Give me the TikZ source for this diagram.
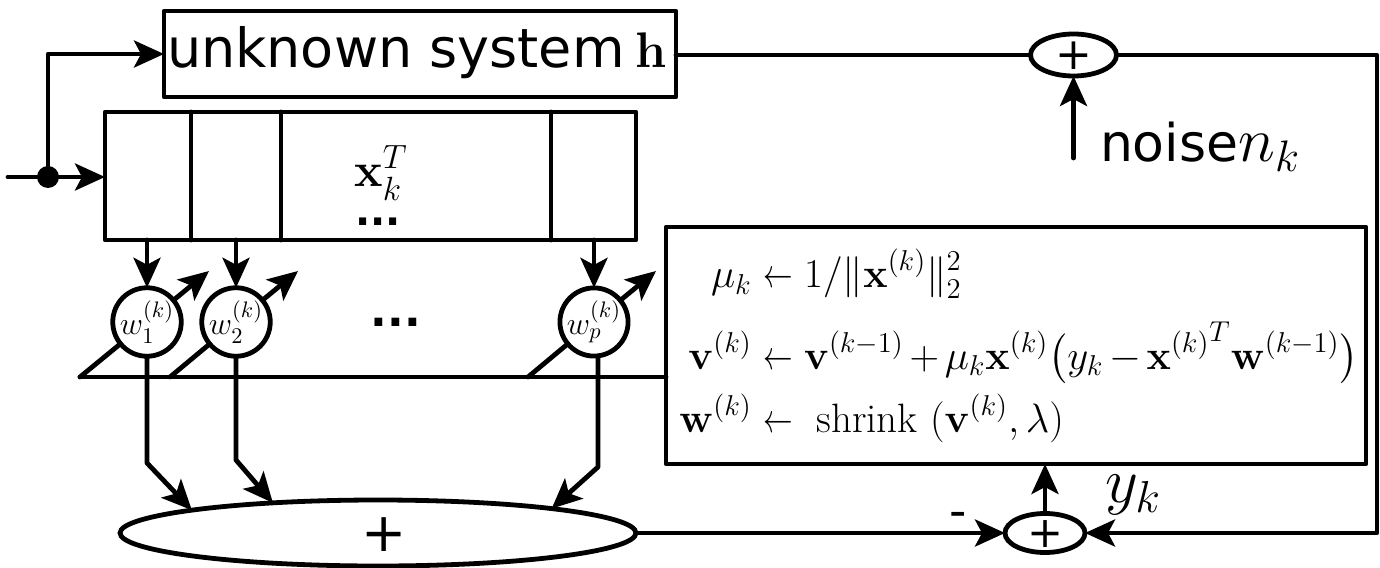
\documentclass[tikz,border=0pt]{standalone}
\usepackage{fix-cm}
\usepackage{amsmath}
\usepackage{graphicx}
\usepackage[no-math]{fontspec}
\newfontfamily\dejavu{DejaVu Sans}
\newfontfamily\dejavub{DejaVu Sans Bold}
\usetikzlibrary{arrows.meta,shapes.geometric}
\newcommand{\fs}[1]{\fontsize{#1}{#1}\selectfont}
\newcommand{\larr}{\mathrel{\scalebox{.72}[1]{$\leftarrow$}}}
\tikzset{
  line/.style={line width=2.4pt,line cap=round,line join=round},
  arr/.style={line,-{Stealth[length=15pt,width=13.5pt,inset=3.5pt]}},
  boxn/.style={draw,line width=2.4pt,inner sep=0pt,outer sep=0pt,rectangle,line join=round},
  ell/.style={draw,line width=2.4pt,ellipse,fill=white,inner sep=0pt,outer sep=0pt},
  wt/.style={draw,line width=2.4pt,circle,fill=white,inner sep=0pt,outer sep=0pt,minimum size=34pt,font=\fs{16}},
  lab/.style={inner sep=0pt,outer sep=0pt},
}
\begin{document}
\begin{tikzpicture}[x=0.5pt,y=-0.5pt]
\useasboundingbox (0,0) rectangle (1380,567);
% blocks
\node[boxn,minimum width=256pt,minimum height=43pt] (sys) at (420,54) {};
\node[lab,anchor=base west,font=\fs{27}] (syst) at (167,68) {\dejavu unknown system\hspace{5.5pt}{\fs{25}$\mathbf{h}$}};
\node[boxn,minimum width=265.5pt,minimum height=64pt] (reg) at (370.5,176) {};
\node[boxn,minimum width=350pt,minimum height=118.5pt] (box) at (1016,345.5) {};
\node[lab,font=\fs{20.5}] (upd) at (1019,347) {\medmuskip=2.5mu$\begin{aligned}
\mu_k &\larr 1/\|\mathbf{x}^{(k)}\|_2^2\\[7pt]
\mathbf{v}^{(k)} &\larr \mathbf{v}^{(k-1)}+\mu_k\mathbf{x}^{(k)}\bigl(y_k-{\mathbf{x}^{(k)}}^{T}\mathbf{w}^{(k-1)}\bigr)\\[1pt]
\mathbf{w}^{(k)} &\larr \text{ shrink }(\mathbf{v}^{(k)},\lambda)
\end{aligned}$};
% register dividers
\coordinate (r1) at (191,176);
\coordinate (r2) at (281,176);
\coordinate (r3) at (551,176);
\draw[line] (r1 |- reg.north) -- (r1 |- reg.south);
\draw[line] (r2 |- reg.north) -- (r2 |- reg.south);
\draw[line] (r3 |- reg.north) -- (r3 |- reg.south);
\node[lab,font=\fs{24}] (xk) at (381,173) {$\mathbf{x}_k^T$};
\node[lab,font=\fs{20},anchor=base] (d1) at (378,225) {\dejavub ...};
\node[lab,font=\fs{22},anchor=base] (d2) at (396,326) {\dejavub ...};
% adders
\node[ell,minimum width=43pt,minimum height=21pt] (p1) at (1073.5,55) {};
\node[lab,font=\fs{22}] (p1t) at (1073.5,56) {\dejavu +};
\node[ell,minimum width=258pt,minimum height=33pt] (big) at (378,533) {};
\node[lab,font=\fs{27}] (bigt) at (384,535) {\dejavu +};
\node[ell,minimum width=40pt,minimum height=19.5pt] (p2) at (1045,533) {};
\node[lab,font=\fs{21.5}] (p2t) at (1045,534) {\dejavu +};
% input
\coordinate (in) at (8,177);
\node[circle,fill=black,minimum size=11pt,inner sep=0pt] (j) at (48,177) {};
\draw[line] (in) -- (j);
\draw[arr] (j) -- (reg.west |- j);
\draw[arr] (j) |- (sys.west);
% top path
\coordinate (rt) at (1377,55);
\draw[line] (sys.east |- p1) -- (p1.west);
\draw[arr] (p1.east) -- (rt) -- (rt |- p2) -- (p2.east);
\coordinate (nb) at (1073.5,158);
\draw[arr] (nb) -- (p1.south);
\node[lab,anchor=base west,font=\fs{26}] (noise) at (1100,162) {\dejavu noise{\fs{31.5}$n_k$}};
% weights
\coordinate (b1) at (80,377);
\coordinate (b2) at (170,377);
\coordinate (b3) at (528,377);
\coordinate (t1) at (209,271);
\coordinate (t2) at (298,271);
\coordinate (t3) at (656,271);
\draw[line] (b1) -- (b1 -| box.west);
\node[wt] (w1) at (147,322) {$w_1^{(k)}$};
\node[wt] (w2) at (236,322) {$w_2^{(k)}$};
\node[wt] (wp) at (594,322) {$w_p^{(k)}$};
\draw[line] (b1) -- (w1);
\draw[line] (b2) -- (w2);
\draw[line] (b3) -- (wp);
\draw[arr] (w1) -- (t1);
\draw[arr] (w2) -- (t2);
\draw[arr] (wp) -- (t3);
\draw[arr] (reg.south -| w1) -- (w1.north);
\draw[arr] (reg.south -| w2) -- (w2.north);
\draw[arr] (reg.south -| wp) -- (wp.north);
% outputs
\coordinate (k1) at (147,463);
\coordinate (k2) at (236,460);
\coordinate (k3) at (598,467);
\draw[arr] (w1.south) -- (k1) -- (big.173.5);
\draw[arr] (w2.south) -- (k2) -- (big.164.3);
\draw[arr] (wp.south -| k3) -- (k3) -- (big.8.2);
\draw[arr] (big.east) -- (p2.west);
\draw[arr] (p2.north) -- (box.south -| p2);
\node[lab,font=\fs{24}] (minus) at (958,520) {\dejavu -};
\node[lab,font=\fs{32}] (yk) at (1133,495) {$y_k$};
\end{tikzpicture}
\end{document}
